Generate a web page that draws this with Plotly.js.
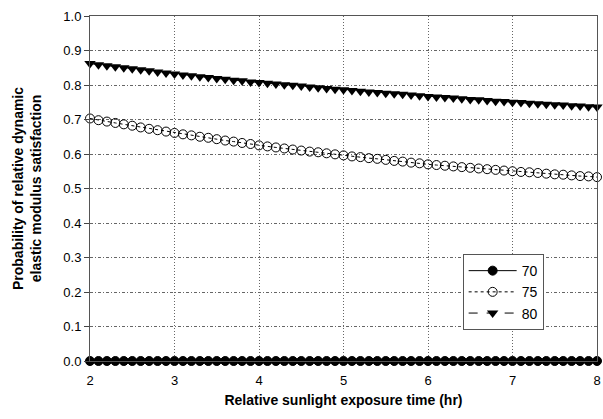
<!DOCTYPE html>
<html>
<head>
<meta charset="utf-8">
<script src="https://cdn.plot.ly/plotly-3.0.1.min.js"></script>
<style>html,body{margin:0;padding:0;background:#fff;}#chart{width:603px;height:419px;}</style>
</head>
<body>
<div id="chart"></div>
<script>
var seriesNames = ["70", "75", "80"];
var xHours = [2.0,2.1,2.2,2.3,2.4,2.5,2.6,2.7,2.8,2.9,
  3.0,3.1,3.2,3.3,3.4,3.5,3.6,3.7,3.8,3.9,
  4.0,4.1,4.2,4.3,4.4,4.5,4.6,4.7,4.8,4.9,
  5.0,5.1,5.2,5.3,5.4,5.5,5.6,5.7,5.8,5.9,
  6.0,6.1,6.2,6.3,6.4,6.5,6.6,6.7,6.8,6.9,
  7.0,7.1,7.2,7.3,7.4,7.5,7.6,7.7,7.8,7.9,8.0];
var p70 = [0,0,0,0,0,0,0,0,0,0,
  0,0,0,0,0,0,0,0,0,0,
  0,0,0,0,0,0,0,0,0,0,
  0,0,0,0,0,0,0,0,0,0,
  0,0,0,0,0,0,0,0,0,0,
  0,0,0,0,0,0,0,0,0,0,0];
var p75 = [0.703,0.698,0.694,0.690,0.686,0.682,0.677,0.673,0.669,0.665,
  0.661,0.657,0.654,0.650,0.647,0.643,0.639,0.636,0.632,0.629,
  0.625,0.622,0.619,0.616,0.613,0.610,0.607,0.605,0.602,0.599,
  0.596,0.593,0.591,0.588,0.586,0.583,0.580,0.578,0.575,0.573,
  0.570,0.568,0.566,0.564,0.562,0.560,0.558,0.556,0.554,0.552,
  0.550,0.548,0.547,0.545,0.543,0.541,0.540,0.538,0.536,0.535,0.533];
var p80 = [0.862,0.859,0.856,0.853,0.850,0.847,0.844,0.841,0.838,0.835,
  0.832,0.829,0.827,0.824,0.822,0.819,0.817,0.814,0.812,0.809,
  0.807,0.805,0.803,0.801,0.799,0.797,0.794,0.792,0.790,0.788,
  0.786,0.784,0.782,0.780,0.778,0.776,0.775,0.773,0.771,0.769,
  0.767,0.765,0.764,0.762,0.760,0.758,0.757,0.755,0.753,0.752,
  0.750,0.749,0.747,0.746,0.744,0.743,0.742,0.740,0.739,0.737,0.736];
var xTickVals = [2,3,4,5,6,7,8];
var yTickVals = [0,0.1,0.2,0.3,0.4,0.5,0.6,0.7,0.8,0.9,1.0];

var font = "Liberation Sans, Arial, sans-serif";
var traces = [
  {x: xHours, y: p70, name: seriesNames[0], type: "scatter", mode: "lines+markers", cliponaxis: false,
   line: {color: "#000", width: 1, dash: "solid"},
   marker: {symbol: "circle", size: 9, color: "#000", line: {color: "#000", width: 1}}},
  {x: xHours, y: p75, name: seriesNames[1], type: "scatter", mode: "lines+markers", cliponaxis: false,
   line: {color: "#000", width: 1, dash: "dot"},
   marker: {symbol: "circle-open", size: 9, color: "#000", line: {color: "#000", width: 1}}},
  {x: xHours, y: p80, name: seriesNames[2], type: "scatter", mode: "lines+markers", cliponaxis: false,
   line: {color: "#000", width: 1, dash: "dash"},
   marker: {symbol: "triangle-down", size: 10, color: "#000", line: {color: "#000", width: 0}}}
];
var layout = {
  width: 603, height: 419,
  margin: {l: 90, r: 6, t: 16, b: 58},
  paper_bgcolor: "#fff", plot_bgcolor: "#fff",
  font: {family: font, size: 13, color: "#000"},
  showlegend: true,
  legend: {x: 0.735, y: 0.31, xanchor: "left", yanchor: "top",
    bgcolor: "#fff", bordercolor: "#555", borderwidth: 1, itemwidth: 48,
    font: {family: font, size: 14, color: "#000"}, tracegroupgap: 0},
  xaxis: {
    range: [2, 8], tickvals: xTickVals, ticks: "", ticklabelstandoff: 7, ticklabeloverflow: "allow",
    showgrid: true, gridcolor: "#666", gridwidth: 1, griddash: "1px,2px",
    showline: true, linecolor: "#555", linewidth: 1, mirror: true, zeroline: false,
    tickfont: {family: font, size: 13, color: "#000"},
    title: {text: "<b>Relative sunlight exposure time (hr)</b>", font: {family: font, size: 14, color: "#000"}, standoff: 8}
  },
  yaxis: {
    range: [0, 1], tickvals: yTickVals, tickformat: ".1f", ticks: "outside", ticklen: 5, tickcolor: "#444",
    showgrid: true, gridcolor: "#666", gridwidth: 1, griddash: "3px,2px,1px,2px",
    showline: true, linecolor: "#555", linewidth: 1, mirror: true, zeroline: false,
    tickfont: {family: font, size: 13, color: "#000"},
    title: {text: "<b>Probability of relative dynamic<br>elastic modulus satisfaction</b>", font: {family: font, size: 14, color: "#000"}, standoff: 18}
  }
};
Plotly.newPlot("chart", traces, layout, {displayModeBar: false, staticPlot: true});
</script>
</body>
</html>
